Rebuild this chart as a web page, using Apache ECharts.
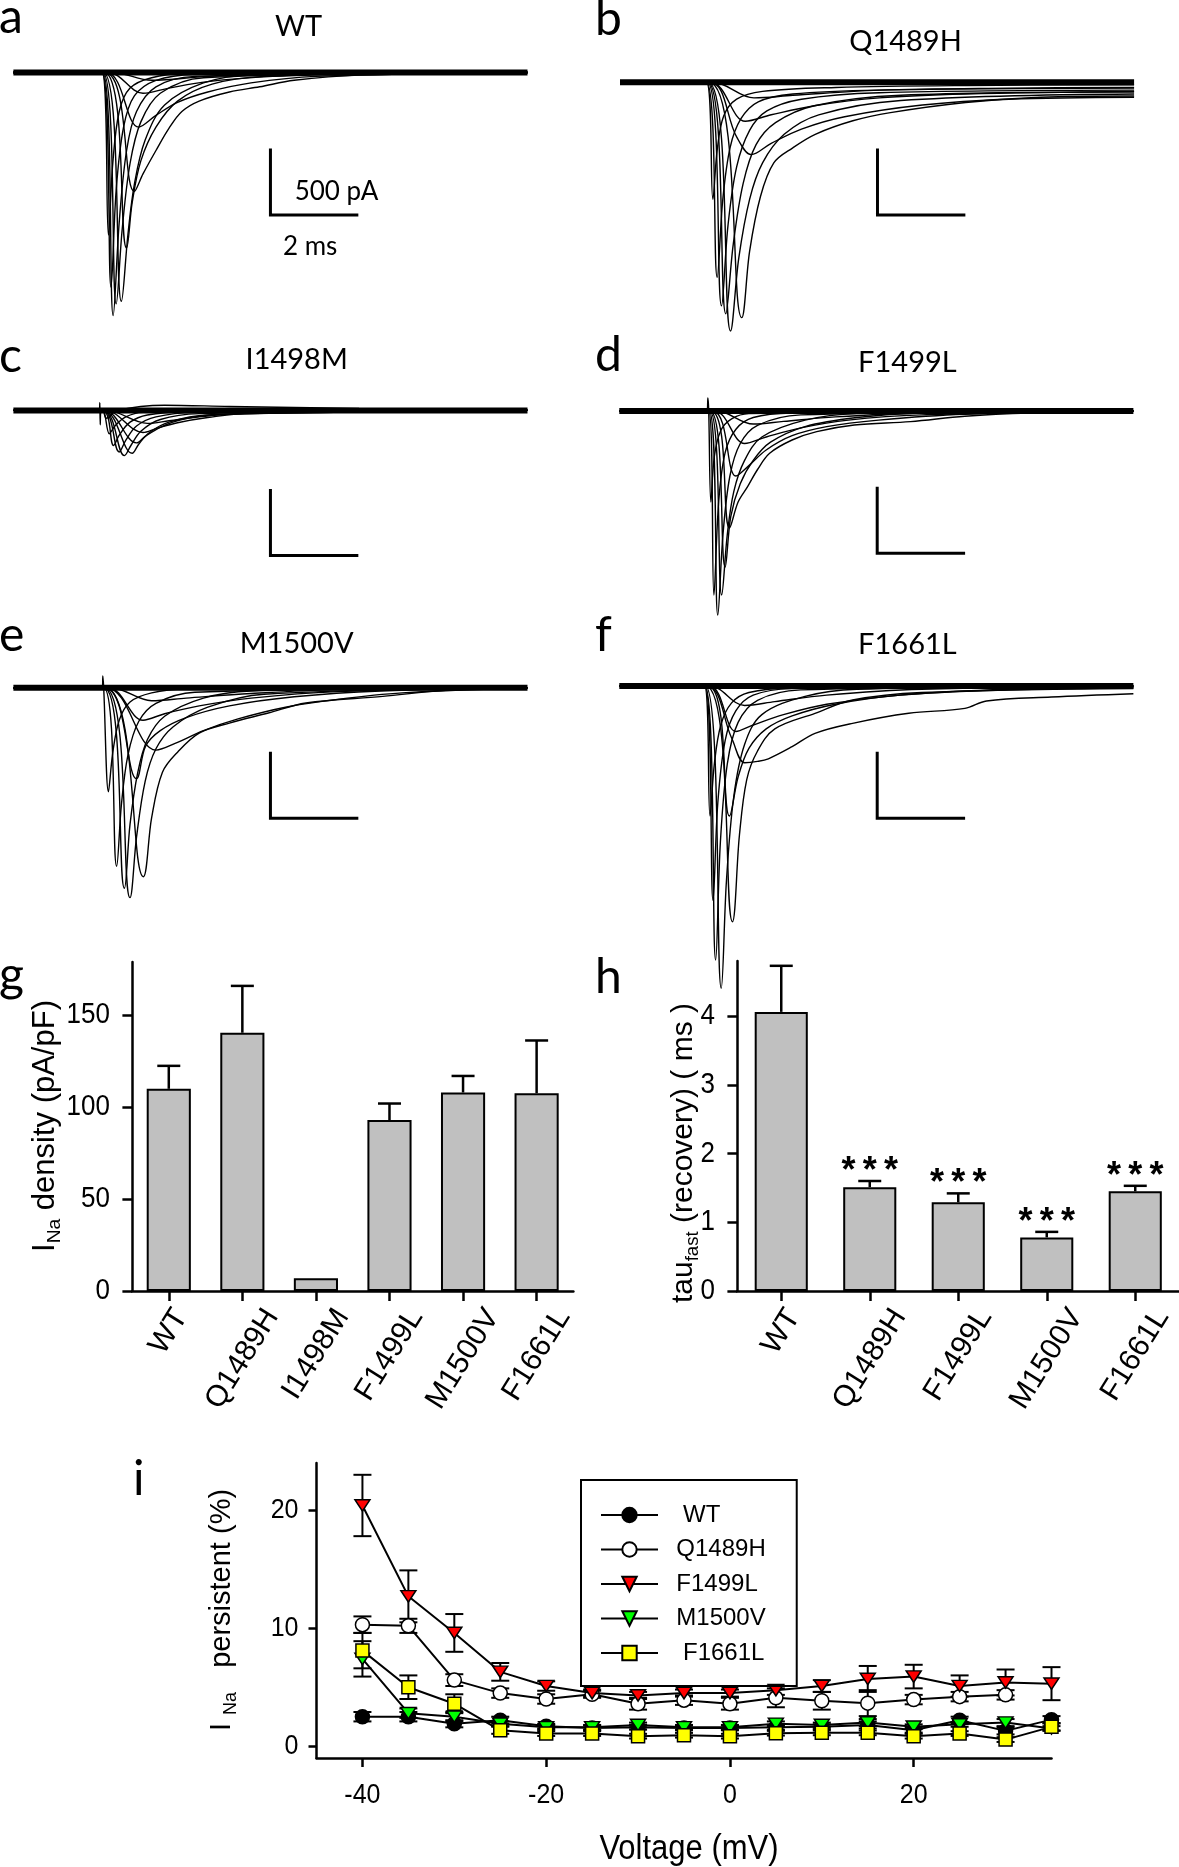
<!DOCTYPE html>
<html><head><meta charset="utf-8">
<script src="https://cdn.jsdelivr.net/npm/echarts@6/dist/echarts.min.js"></script>
<style>html,body{margin:0;padding:0;background:#fff}#c{width:1179px;height:1867px}</style>
</head><body><div id="c"></div>
<script>
// ---------------- DATA ----------------
// Panels a-f: current traces, [time (ms), current (pA)]
const panelTitles = ['WT','Q1489H','I1498M','F1499L','M1500V','F1661L'];
const panelLetters = ['a','b','c','d','e','f','g','h','i'];

const aTraces = [
[[0,0],[2.05,0],[2.2,-1250],[2.3,-700],[2.45,-300],[2.7,-120],[3.2,-40],[4,-10],[11.9,0]],
[[0,0],[2.05,0],[2.26,-1650],[2.38,-900],[2.55,-420],[2.8,-180],[3.3,-60],[4.2,-15],[11.9,0]],
[[0,0],[2.06,0],[2.31,-1870],[2.45,-1150],[2.62,-600],[2.85,-300],[3.3,-110],[4.2,-30],[11.9,0]],
[[0,0],[2.07,0],[2.38,-1780],[2.52,-1200],[2.7,-700],[2.95,-380],[3.4,-160],[4.4,-40],[11.9,0]],
[[0,0],[2.08,0],[2.5,-1760],[2.65,-1250],[2.8,-860],[3.05,-520],[3.5,-250],[4.4,-80],[5.5,-20],[11.9,0]],
[[0,0],[2.1,0],[2.62,-1350],[2.75,-1000],[2.95,-680],[3.3,-420],[3.8,-220],[4.6,-90],[5.8,-30],[11.9,0]],
[[0,0],[2.12,0],[2.8,-915],[3.0,-780],[3.3,-600],[3.6,-430],[3.9,-300],[4.3,-220],[5,-150],[5.7,-110],[6.5,-60],[8,-20],[11.9,0]],
[[0,0],[2.15,0],[2.9,-420],[3.3,-330],[3.8,-230],[4.5,-150],[5.5,-80],[7,-30],[11.9,0]],
[[0,0],[2.2,0],[3.0,-160],[3.6,-120],[4.5,-70],[6,-30],[8,-10],[11.9,0]],
[[0,0],[2.3,0],[3.2,-60],[4.5,-30],[6.5,-10],[11.9,0]]
];
const bTraces = [
[[0,0],[2.0,0],[2.15,-900],[2.25,-520],[2.4,-260],[2.7,-130],[3.3,-70],[5,-40],[8,-25],[11.9,-20]],
[[0,0],[2.0,0],[2.25,-1500],[2.38,-900],[2.55,-500],[2.8,-280],[3.2,-150],[4,-90],[6,-60],[11.9,-45]],
[[0,0],[2.02,0],[2.35,-1720],[2.5,-1100],[2.7,-650],[3.0,-370],[3.4,-220],[4.2,-130],[6,-80],[11.9,-60]],
[[0,0],[2.03,0],[2.45,-1780],[2.62,-1250],[2.85,-780],[3.15,-480],[3.6,-310],[4.5,-180],[6.5,-100],[11.9,-75]],
[[0,0],[2.04,0],[2.56,-1913],[2.75,-1350],[3.0,-900],[3.3,-620],[3.8,-400],[4.6,-250],[6.5,-140],[11.9,-90]],
[[0,0],[2.06,0],[2.82,-1810],[3.0,-1300],[3.25,-880],[3.56,-620],[4.0,-504],[4.52,-400],[5.39,-296],[6.26,-233],[8,-155],[9.73,-115],[11.9,-105]],
[[0,0],[2.08,0],[2.7,-420],[3.04,-556],[3.5,-470],[4.2,-360],[5.2,-265],[7,-175],[9,-130],[11.9,-115]],
[[0,0],[2.1,0],[2.9,-300],[3.5,-250],[4.5,-180],[6,-120],[8,-90],[11.9,-70]],
[[0,0],[2.15,0],[3.1,-120],[4,-100],[6,-60],[9,-45],[11.9,-40]]
];
const cTraces = [
[[0,0],[1.99,0],[2.0,60],[2.01,-110],[2.03,0],[2.08,0],[2.22,-180],[2.35,-120],[2.6,-50],[3,-15],[11.9,0]],
[[0,0],[2.05,0],[2.32,-270],[2.45,-190],[2.7,-90],[3.1,-35],[4,-10],[11.9,0]],
[[0,0],[2.06,0],[2.45,-320],[2.6,-230],[2.85,-120],[3.3,-50],[4.2,-15],[11.9,0]],
[[0,0],[2.07,0],[2.57,-348],[2.72,-270],[2.95,-160],[3.4,-70],[4.3,-25],[11.9,0]],
[[0,0],[2.08,0],[2.75,-330],[2.9,-260],[3.15,-170],[3.6,-90],[4.5,-35],[11.9,0]],
[[0,0],[2.1,0],[2.85,-250],[3.05,-200],[3.4,-130],[3.9,-70],[4.8,-30],[11.9,0]],
[[0,0],[2.12,0],[3.0,-170],[3.3,-140],[3.8,-95],[4.5,-55],[5.5,-20],[11.9,0]],
[[0,0],[2.15,0],[3.1,-100],[3.6,-80],[4.3,-50],[5.3,-25],[11.9,0]],
[[0,0],[2.05,0],[2.15,-60],[2.4,0],[3.5,40],[5,30],[8,15],[11.9,5]]
];
const dTraces = [
[[0,0],[2.03,0],[2.05,100],[2.07,0],[2.12,-700],[2.2,-350],[2.35,-150],[2.6,-60],[3,-20],[11.9,0]],
[[0,0],[2.07,0],[2.19,-1415],[2.3,-700],[2.45,-320],[2.7,-140],[3.1,-50],[4,-15],[11.9,0]],
[[0,0],[2.08,0],[2.28,-1569],[2.4,-950],[2.56,-500],[2.8,-250],[3.2,-110],[4.2,-30],[11.9,0]],
[[0,0],[2.09,0],[2.37,-1415],[2.5,-950],[2.65,-620],[2.9,-380],[3.3,-200],[4.3,-70],[5.5,-20],[11.9,0]],
[[0,0],[2.1,0],[2.45,-1200],[2.58,-812],[2.8,-560],[3.1,-380],[3.5,-240],[4.3,-120],[5.5,-50],[7,-15],[11.9,0]],
[[0,0],[2.12,0],[2.55,-900],[2.75,-700],[2.97,-582],[3.2,-450],[3.48,-325],[4.0,-223],[4.57,-159],[5.44,-108],[6.74,-82],[8,-40],[9.5,-15],[11.9,0]],
[[0,0],[2.15,0],[2.7,-500],[3.0,-420],[3.4,-300],[4,-190],[4.8,-120],[6,-70],[8,-25],[11.9,0]],
[[0,0],[2.2,0],[2.9,-250],[3.4,-200],[4.2,-130],[5.3,-70],[7,-30],[11.9,0]],
[[0,0],[2.25,0],[3.1,-100],[3.8,-80],[5,-45],[7,-15],[11.9,0]]
];
const eTraces = [
[[0,0],[2.06,0],[2.07,90],[2.09,0],[2.2,-800],[2.3,-500],[2.45,-250],[2.7,-110],[3.2,-40],[4,-10],[11.9,0]],
[[0,0],[2.09,0],[2.39,-1373],[2.5,-900],[2.65,-520],[2.9,-260],[3.3,-120],[4.2,-35],[11.9,0]],
[[0,0],[2.1,0],[2.57,-1543],[2.7,-1050],[2.88,-650],[3.1,-400],[3.5,-220],[4.4,-80],[5.5,-25],[11.9,0]],
[[0,0],[2.11,0],[2.7,-1615],[2.85,-1150],[3.05,-720],[3.3,-470],[3.7,-300],[4.5,-150],[5.8,-50],[11.9,0]],
[[0,0],[2.13,0],[3.01,-1454],[3.2,-1000],[3.45,-650],[3.81,-492],[4.3,-349],[5.0,-272],[5.9,-195],[6.77,-118],[8.55,-67],[10,-20],[11.9,0]],
[[0,0],[2.12,0],[2.85,-700],[3.06,-450],[3.4,-330],[4,-230],[5,-140],[6.5,-70],[8.5,-25],[11.9,0]],
[[0,0],[2.15,0],[3.3,-480],[3.8,-420],[4.4,-330],[5.2,-240],[6.3,-150],[7.5,-90],[9,-40],[11.9,0]],
[[0,0],[2.2,0],[3.0,-250],[3.5,-200],[4.3,-140],[5.5,-80],[7.5,-30],[11.9,0]],
[[0,0],[2.25,0],[3.2,-100],[4,-80],[5.5,-45],[7.5,-15],[11.9,0]]
];
const fTraces = [
[[0,0],[1.97,0],[2.1,-1000],[2.2,-600],[2.35,-300],[2.6,-130],[3,-50],[4,-15],[11.9,0]],
[[0,0],[1.98,0],[2.17,-1650],[2.28,-900],[2.45,-420],[2.7,-190],[3.1,-70],[4,-20],[11.9,0]],
[[0,0],[1.98,0],[2.23,-2108],[2.34,-1200],[2.5,-600],[2.75,-280],[3.2,-110],[4.2,-30],[11.9,0]],
[[0,0],[1.99,0],[2.36,-2325],[2.48,-1500],[2.65,-850],[2.9,-450],[3.3,-220],[4.3,-80],[5.5,-25],[11.9,0]],
[[0,0],[2.0,0],[2.62,-1813],[2.78,-1150],[2.95,-720],[3.2,-500],[3.6,-330],[4.53,-210],[5.4,-108],[7,-50],[11.9,-20]],
[[0,0],[2.02,0],[2.6,-400],[2.9,-590],[3.2,-580],[3.45,-560],[4.0,-467],[4.53,-364],[5.4,-287],[6.7,-210],[8.0,-172],[8.5,-115],[10,-85],[11.9,-60]],
[[0,0],[2.05,0],[2.55,-1000],[2.75,-700],[3.0,-480],[3.4,-330],[4,-230],[5,-140],[6.5,-70],[9,-30],[11.9,-10]],
[[0,0],[2.08,0],[2.7,-350],[3.1,-300],[3.8,-220],[4.8,-140],[6.5,-70],[9,-25],[11.9,-10]],
[[0,0],[2.1,0],[2.9,-150],[3.6,-120],[4.8,-70],[7,-25],[11.9,0]]
];
const traceEndMs = 11.9;
// scale bars: 500 pA / 2 ms, position (ms, pA of top) per panel
const scaleBarT = [5.95, 5.96, 5.95, 5.97, 5.95, 5.97];
const scaleBarTop = [-596, -521, -617, -595, -505, -518];
const SCALE_PA = 500, SCALE_MS = 2;
const scaleLabels = ['500 pA', '2 ms'];

// Panel g
const gCats = ['WT','Q1489H','I1498M','F1499L','M1500V','F1661L'];
const gVals = [110, 140.5, 7, 93, 108, 107.6];
const gErr  = [12.5, 25.5, 0, 9, 9, 28.7];
const gTicks = [0, 50, 100, 150];
// Panel h
const hCats = ['WT','Q1489H','F1499L','M1500V','F1661L'];
const hVals = [4.06, 1.51, 1.29, 0.78, 1.45];
const hErr  = [0.67, 0.09, 0.13, 0.08, 0.08];
const hSig  = ['', '*\u2009*\u2009*', '*\u2009*\u2009*', '*\u2009*\u2009*', '*\u2009*\u2009*'];
const hTicks = [0, 1, 2, 3, 4];
// Panel i
const voltages = [-40,-35,-30,-25,-20,-15,-10,-5,0,5,10,15,20,25,30,35];
const iNames = ['WT','Q1489H','F1499L','M1500V','F1661L'];
const iWT     = [2.5,2.5,1.9,2.2,1.7,1.55,1.6,1.55,1.55,1.6,1.65,1.8,1.35,2.2,1.3,2.25];
const iWTerr  = [0.4,0.4,0.3,0.3,0.2,0.2,0.2,0.2,0.2,0.2,0.2,0.3,0.2,0.3,0.3,0.3];
const iQ      = [10.3,10.2,5.6,4.5,4.0,4.4,3.6,3.9,3.6,4.1,3.85,3.65,3.95,4.2,4.35];
const iQerr   = [0.7,0.6,0.5,0.4,0.4,0.3,0.5,0.4,0.5,0.8,0.75,1.1,0.4,0.4,0.4];
const iF99    = [20.4,12.7,9.6,6.3,5.1,4.5,4.3,4.5,4.5,4.75,5.1,5.7,5.9,5.1,5.4,5.3];
const iF99err = [2.6,2.2,1.6,0.75,0.4,0.3,0.3,0.3,0.3,0.4,0.5,1.1,1.0,0.9,1.1,1.4];
const iM      = [7.4,2.8,2.5,1.9,1.6,1.6,1.8,1.6,1.6,1.9,1.8,2.0,1.65,1.85,2.0,1.5];
const iMerr   = [1.5,0.4,0.4,0.2,0.2,0.2,0.2,0.2,0.2,0.2,0.2,0.3,0.2,0.2,0.3,0.2];
const iF61    = [8.1,5.0,3.6,1.35,1.07,1.07,0.85,0.93,0.85,1.1,1.13,1.13,0.85,1.07,0.56,1.64];
const iF61err = [1.5,1.0,0.8,0.3,0.2,0.2,0.2,0.2,0.2,0.2,0.2,0.2,0.2,0.2,0.2,0.3];
const iXTicks = [-40, -20, 0, 20];
const iYTicks = [0, 10, 20];

// ---------------- LAYOUT ----------------
const SANS = 'Liberation Sans';
const TITLEF = 'Lato';
const PX_MS = 43.2, PX_PA = 0.13;
const tracePanels = [
  {left:13.4, base:72.5, traces:aTraces},
  {left:620, base:82.3, traces:bTraces},
  {left:13.4, base:410.4, traces:cTraces},
  {left:619.3, base:411, traces:dTraces},
  {left:13.4, base:687.7, traces:eTraces},
  {left:619.3, base:686, traces:fTraces}
];
const Y_MAX = 300, Y_MIN = -2600;
const grids = [], xAxes = [], yAxes = [], series = [];
const blk = '#000';

tracePanels.forEach((p, i) => {
  grids.push({left:p.left, top:p.base - Y_MAX*PX_PA, width:12*PX_MS, height:(Y_MAX - Y_MIN)*PX_PA, outerBoundsMode:'none', containLabel:false});
  xAxes.push({type:'value', gridIndex:i, min:0, max:12, show:false});
  yAxes.push({type:'value', gridIndex:i, min:Y_MIN, max:Y_MAX, show:false});
  series.push({type:'line', xAxisIndex:i, yAxisIndex:i, data:[[0,0],[traceEndMs,0]], symbol:'none', silent:true,
    lineStyle:{color:blk, width:6}, z:2});
  p.traces.forEach(tr => series.push({type:'line', xAxisIndex:i, yAxisIndex:i, data:tr, symbol:'none', silent:true,
    smooth:0.35, clip:false, lineStyle:{color:blk, width:1.4}, z:3}));
  const t0 = scaleBarT[i], top = scaleBarTop[i];
  series.push({type:'line', xAxisIndex:i, yAxisIndex:i, symbol:'none', silent:true, clip:false,
    data:[[t0, top],[t0, top - SCALE_PA],[t0 + SCALE_MS, top - SCALE_PA]],
    lineStyle:{color:blk, width:3, cap:'square', join:'miter'}, z:3});
});

const axLine = {show:true, onZero:false, lineStyle:{color:blk, width:2.5}};
const tickStyle = {color:blk, width:2.5};

// g (grid 6)
grids.push({left:132, top:962, width:441.4, height:329, outerBoundsMode:'none', containLabel:false});
xAxes.push({type:'category', gridIndex:6, data:gCats, boundaryGap:true, axisLine:axLine,
  axisTick:{show:true, alignWithLabel:true, length:10, lineStyle:tickStyle}, axisLabel:{show:false}, splitLine:{show:false}});
yAxes.push({type:'value', gridIndex:6, min:0, max:179, interval:50, axisLine:axLine,
  axisTick:{show:true, length:9.6, lineStyle:tickStyle, customValues:gTicks},
  axisLabel:{show:false}, splitLine:{show:false}});
// h (grid 7)
grids.push({left:737, top:961, width:442.5, height:330, outerBoundsMode:'none', containLabel:false});
xAxes.push({type:'category', gridIndex:7, data:hCats, boundaryGap:true, axisLine:axLine,
  axisTick:{show:true, alignWithLabel:true, length:10, lineStyle:tickStyle}, axisLabel:{show:false}, splitLine:{show:false}});
yAxes.push({type:'value', gridIndex:7, min:0, max:4.8, interval:1, axisLine:axLine,
  axisTick:{show:true, length:9.6, lineStyle:tickStyle, customValues:hTicks},
  axisLabel:{show:false}, splitLine:{show:false}});
// i (grid 8)
grids.push({left:316.5, top:1463, width:735, height:295, outerBoundsMode:'none', containLabel:false});
xAxes.push({type:'value', gridIndex:8, min:-45, max:35, interval:5, axisLine:axLine,
  axisTick:{show:true, length:9, lineStyle:tickStyle, customValues:iXTicks},
  axisLabel:{show:false}, splitLine:{show:false}});
yAxes.push({type:'value', gridIndex:8, min:-1, max:24, interval:1, axisLine:axLine,
  axisTick:{show:true, length:8, lineStyle:tickStyle, customValues:iYTicks},
  axisLabel:{show:false}, splitLine:{show:false}});

// bars g/h
function barSeries(idx, vals) {
  return {type:'bar', xAxisIndex:idx, yAxisIndex:idx, data:vals, barWidth:'60%', silent:true,
    itemStyle:{color:'#c0c0c0', borderColor:blk, borderWidth:2}, z:2};
}
function barErr(idx, vals, errs, cap, sig) {
  return {type:'custom', xAxisIndex:idx, yAxisIndex:idx, silent:true, z:4, clip:false,
    data: vals.map((v, k) => [k, v, errs[k], k]),
    encode:{x:0, y:1},
    renderItem(params, api) {
      const k = api.value(0), v = api.value(1), e = api.value(2);
      const children = [];
      const base = api.coord([k, v]);
      const top = api.coord([k, v + e]);
      if (e > 0) {
        children.push({type:'line', shape:{x1:base[0], y1:base[1], x2:top[0], y2:top[1]}, style:{stroke:blk, lineWidth:2.5}});
        children.push({type:'line', shape:{x1:top[0]-cap/2, y1:top[1], x2:top[0]+cap/2, y2:top[1]}, style:{stroke:blk, lineWidth:2.5}});
      }
      const s = sig ? sig[api.value(3)] : '';
      if (s) children.push({type:'text', x:top[0], y:top[1] - 9, style:{text:s, fill:blk, fontSize:36, fontWeight:'bold', fontFamily:SANS,
        align:'center', verticalAlign:'middle', textAlign:'center', textVerticalAlign:'middle'}});
      return {type:'group', children};
    }};
}
series.push(barSeries(6, gVals), barErr(6, gVals, gErr, 23, null));
series.push(barSeries(7, hVals), barErr(7, hVals, hErr, 23, hSig));

// i series
const triDown = 'path://M0,0L16,0L8,14Z';
const iDefs = [
  {vals:iWT, err:iWTerr, symbol:'circle', size:14, fill:'#000'},
  {vals:iQ, err:iQerr, symbol:'circle', size:14, fill:'#fff'},
  {vals:iF99, err:iF99err, symbol:triDown, size:[15,13], fill:'#ff0000'},
  {vals:iM, err:iMerr, symbol:triDown, size:[15,13], fill:'#00ff00'},
  {vals:iF61, err:iF61err, symbol:'rect', size:13, fill:'#ffff00'}
];
iDefs.forEach((d, k) => {
  const pts = d.vals.map((v, j) => [voltages[j], v]);
  series.push({type:'custom', xAxisIndex:8, yAxisIndex:8, silent:true, z:2 + k*0.01, clip:false,
    data: d.vals.map((v, j) => [voltages[j], v, d.err[j]]), encode:{x:0, y:1},
    renderItem(params, api) {
      const x = api.value(0), m = api.value(1), e = api.value(2);
      const t = api.coord([x, m + e]), b = api.coord([x, m - e]);
      const cap = 18, st = {stroke:blk, lineWidth:2};
      return {type:'group', children:[
        {type:'line', shape:{x1:t[0], y1:t[1], x2:b[0], y2:b[1]}, style:st},
        {type:'line', shape:{x1:t[0]-cap/2, y1:t[1], x2:t[0]+cap/2, y2:t[1]}, style:st},
        {type:'line', shape:{x1:b[0]-cap/2, y1:b[1], x2:b[0]+cap/2, y2:b[1]}, style:st}
      ]};
    }});
  series.push({type:'line', name:iNames[k], xAxisIndex:8, yAxisIndex:8, data:pts, silent:true,
    symbol:d.symbol, symbolSize:d.size, symbolKeepAspect:true, showAllSymbol:true,
    lineStyle:{color:blk, width:2}, itemStyle:{color:d.fill, borderColor:blk, borderWidth:1.5}, z:3 + k*0.01});
});

const legendPad = {'WT':'   WT', 'F1661L':'   F1661L'};
const option = {
  animation:false, backgroundColor:'#fff',
  textStyle:{fontFamily:SANS},
  grid:grids, xAxis:xAxes, yAxis:yAxes, series:series,
  legend:{show:true, orient:'vertical', left:581, top:1480, padding:[23,31,21,19],
    itemWidth:57, itemHeight:18, itemGap:10.5, borderColor:blk, borderWidth:2, selectedMode:false,
    data:iNames, formatter:n => legendPad[n] || ('  ' + n),
    textStyle:{fontSize:24, fontFamily:SANS, color:blk}}
};
const chart = echarts.init(document.getElementById('c'), null, {renderer:'canvas', width:1179, height:1867});
chart.setOption(option);

// ---------------- TEXT (graphic) ----------------
const mctx = document.createElement('canvas').getContext('2d');
function tw(text, size, fam) { mctx.font = size + 'px "' + fam + '"'; return mctx.measureText(text).width; }
function txt(x, y, text, size, fam, align) {
  return {type:'text', x, y, silent:true, style:{text, fill:blk, fontSize:size, fontFamily:fam,
    font: size + 'px "' + fam + '"', align:align || 'left', textAlign:align || 'left', verticalAlign:'middle', textVerticalAlign:'middle'}};
}
// text slightly stretched vertically, as in the reference
function stxt(x, y, text, size, fam, align, sy) {
  return {type:'group', x, y, scaleY:sy, silent:true, children:[txt(0, 0, text, size, fam, align)]};
}
const G = [];
const letterPos = [[-1,18],[595,20],[-1,357],[595,356],[-1,636],[595,636],[-1,976],[595,978],[133,1480]];
panelLetters.forEach((l, k) => G.push(txt(letterPos[k][0], letterPos[k][1], l, 48, TITLEF, 'left')));
const titlePos = [[298.5,26.7],[905.5,42],[296.7,359.5],[907.4,362.5],[296.6,644],[907.4,645]];
panelTitles.forEach((t, k) => G.push(txt(titlePos[k][0], titlePos[k][1], t, 29, TITLEF, 'center')));
G.push(txt(294.7, 191.7, scaleLabels[0], 26, TITLEF, 'left'));
G.push(txt(283, 246.7, scaleLabels[1], 26, TITLEF, 'left'));

// rotated axis titles with subscripts
function rotTitle(cx, cy, parts, size) {
  const sub = size * 0.62;
  const ws = parts.map(p => tw(p[0], p[1] ? sub : size, SANS));
  const total = ws.reduce((a, b) => a + b, 0);
  let x = -total / 2;
  const children = parts.map((p, k) => {
    const el = txt(x, p[1] ? size * 0.3 : 0, p[0], p[1] ? sub : size, SANS, 'left');
    x += ws[k];
    return el;
  });
  return {type:'group', x:cx, y:cy, rotation:Math.PI / 2, children, silent:true};
}
G.push(rotTitle(45, 1126, [['I',0],['Na',1],[' density (pA/pF)',0]], 31));
G.push(rotTitle(684, 1153, [['tau',0],['fast',1],[' (recovery) ( ms )',0]], 30));
G.push(rotTitle(222, 1610, [['I ',0],['Na',1],['   persistent (%)',0]], 29));
G.push(stxt(689, 1849, 'Voltage (mV)', 31, SANS, 'center', 1.12));

// value-axis tick labels, placed through the axes' own scales
gTicks.forEach(v => { const p = chart.convertToPixel({gridIndex:6}, [0, v]); G.push(stxt(grids[6].left - 22, p[1], String(v), 26, SANS, 'right', 1.12)); });
hTicks.forEach(v => { const p = chart.convertToPixel({gridIndex:7}, [0, v]); G.push(stxt(grids[7].left - 22, p[1], String(v), 26, SANS, 'right', 1.12)); });
iYTicks.forEach(v => { const p = chart.convertToPixel({gridIndex:8}, [-45, v]); G.push(stxt(p[0] - 18, p[1], String(v), 25, SANS, 'right', 1.1)); });
iXTicks.forEach(v => { const p = chart.convertToPixel({gridIndex:8}, [v, -1]); G.push(stxt(p[0], p[1] + 37, String(v), 25, SANS, 'center', 1.1)); });

// rotated category labels (centred under ticks, ~58 degrees)
function catLabels(idx, cats) {
  const size = 30, H = size * 0.72, ang = 58 * Math.PI / 180;
  cats.forEach((c, k) => {
    const p = chart.convertToPixel({gridIndex:idx}, [k, 0]);
    const L = tw(c, size, SANS);
    const half = (L / 2) * Math.sin(ang) + (H / 2) * Math.cos(ang);
    G.push({type:'group', x:p[0], y:p[1] + 15 + half, rotation:ang, silent:true,
      children:[txt(0, 0, c, size, SANS, 'center')]});
  });
}
catLabels(6, gCats);
catLabels(7, hCats);
chart.setOption({graphic:G});
</script>
</body></html>
